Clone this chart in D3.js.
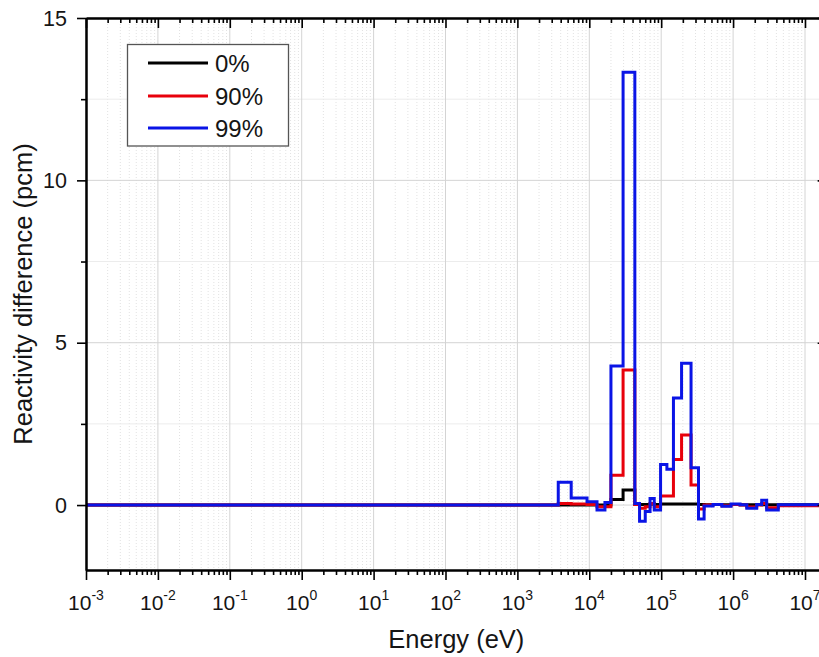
<!DOCTYPE html>
<html>
<head>
<meta charset="utf-8">
<script src="https://cdn.jsdelivr.net/npm/d3@7"></script>
<style>
  html, body { margin: 0; padding: 0; background: #fff; }
  svg { display: block; font-family: "Liberation Sans", Arial, sans-serif; }
</style>
</head>
<body>
<svg id="chart" width="819" height="657"></svg>
<script>
// ---- data (energy group boundaries in eV, values in pcm) ----
const groupBounds = [1e-3, 3.7e3, 5.6e3, 9.3e3, 1.28e4, 1.65e4, 2.0e4, 2.95e4, 4.3e4, 5.0e4,
  6.0e4, 7.0e4, 8.0e4, 9.8e4, 1.2e5, 1.48e5, 1.92e5, 2.6e5, 3.3e5, 3.95e5,
  5.25e5, 7.0e5, 9.35e5, 1.25e6, 1.55e6, 2.13e6, 2.5e6, 2.93e6, 4.25e6, 2e7];
const seriesNames = ["0%", "90%", "99%"];
const seriesColors = ["#000000", "#e8000b", "#0a14e6"];
const values0 = [0, 0, 0, 0, 0, 0, 0.17, 0.46, 0.02, 0.02,
  0.02, 0.03, 0.02, 0.03, 0.03, 0.03, 0.03, 0.03, 0.02, 0.01,
  0.02, 0.01, 0.02, 0.01, 0.01, 0.02, 0.01, 0.01, 0.01];
const values90 = [0, 0.05, 0.03, 0.02, -0.05, -0.05, 0.92, 4.16, 0.02, -0.1,
  -0.05, 0.05, -0.05, 0.28, 0.28, 1.4, 2.16, 0.62, -0.12, 0.0,
  0.02, -0.02, 0.02, 0.0, -0.06, 0.0, 0.05, -0.08, -0.02];
const values99 = [0, 0.70, 0.22, 0.10, -0.15, 0.08, 4.28, 13.33, 0.05, -0.5,
  -0.2, 0.2, -0.15, 1.25, 1.1, 3.3, 4.37, 1.15, -0.43, -0.03,
  0.02, -0.04, 0.03, 0.01, -0.1, 0.02, 0.15, -0.15, 0.01];
const xDomain = [1e-3, 2e7];
const yDomain = [-2, 15];
const xTickExps = [-3, -2, -1, 0, 1, 2, 3, 4, 5, 6, 7];
const yTickValues = [0, 5, 10, 15];
const yMinorValues = [2.5, 7.5, 12.5];
const xLabel = "Energy (eV)";
const yLabel = "Reactivity difference (pcm)";

// ---- layout ----
const PL = 86, PT = 18, PB = 570;
const decadePx = 71.9;
const PR = PL + decadePx * Math.log10(xDomain[1] / xDomain[0]);

const svg = d3.select("#chart");
const x = d3.scaleLog().domain(xDomain).range([PL, PR]);
const y = d3.scaleLinear().domain(yDomain).range([PB, PT]);

svg.append("defs").append("clipPath").attr("id", "clip")
  .append("rect").attr("x", PL).attr("y", PT).attr("width", PR - PL).attr("height", PB - PT);

const xMinor = [];
for (let e = -3; e <= 7; e++) for (let k = 2; k <= 9; k++) {
  const v = k * Math.pow(10, e);
  if (v <= xDomain[1]) xMinor.push(v);
}
const xMajor = xTickExps.map(e => Math.pow(10, e));

// grid
const grid = svg.append("g");
grid.selectAll(".vminor").data(xMinor).enter().append("line")
  .attr("x1", d => x(d)).attr("x2", d => x(d)).attr("y1", PT).attr("y2", PB)
  .attr("stroke", "#e2e2e2").attr("stroke-width", 1).attr("stroke-dasharray", "1,2");
grid.selectAll(".hminor").data(yMinorValues).enter().append("line")
  .attr("x1", PL).attr("x2", PR).attr("y1", d => y(d)).attr("y2", d => y(d))
  .attr("stroke", "#ececec").attr("stroke-width", 1);
grid.selectAll(".vmajor").data(xMajor).enter().append("line")
  .attr("x1", d => x(d)).attr("x2", d => x(d)).attr("y1", PT).attr("y2", PB)
  .attr("stroke", "#d4d4d4").attr("stroke-width", 1);
grid.selectAll(".hmajor").data(yTickValues).enter().append("line")
  .attr("x1", PL).attr("x2", PR).attr("y1", d => y(d)).attr("y2", d => y(d))
  .attr("stroke", "#d4d4d4").attr("stroke-width", 1);

// series
const allValues = [values0, values90, values99];
const stepLine = d3.line().x(d => x(d[0])).y(d => y(d[1])).curve(d3.curveStepAfter);
const plotG = svg.append("g").attr("clip-path", "url(#clip)");
allValues.forEach((vals, i) => {
  const pts = vals.map((v, j) => [groupBounds[j], v]);
  pts.push([groupBounds[groupBounds.length - 1], vals[vals.length - 1]]);
  plotG.append("path").datum(pts).attr("d", stepLine)
    .attr("fill", "none").attr("stroke", seriesColors[i])
    .attr("stroke-width", 3).attr("stroke-linejoin", "miter");
});

// axes
const noFmt = () => "";
function styleAxis(g) {
  g.selectAll("path").attr("stroke", "#000").attr("stroke-width", 2);
  g.selectAll("line").attr("stroke", "#000").attr("stroke-width", 1.6);
}
const axBottomMinor = d3.axisBottom(x).tickValues(xMinor).tickFormat(noFmt).tickSizeOuter(0).tickSizeInner(5);
const axBottom = d3.axisBottom(x).tickValues(xMajor).tickFormat(noFmt).tickSizeOuter(0).tickSizeInner(10);
const axLeftMinor = d3.axisLeft(y).tickValues(yMinorValues).tickFormat(noFmt).tickSizeOuter(0).tickSizeInner(5);
const axLeft = d3.axisLeft(y).tickValues(yTickValues).tickFormat(noFmt).tickSizeOuter(0).tickSizeInner(9);

svg.append("g").attr("transform", `translate(0,${PB})`).call(axBottomMinor).call(styleAxis);
svg.append("g").attr("transform", `translate(0,${PB})`).call(axBottom).call(styleAxis);
// top axis, ticks pointing into the plot
svg.append("g").attr("transform", `translate(0,${PT})`).call(axBottomMinor).call(styleAxis);
svg.append("g").attr("transform", `translate(0,${PT})`).call(axBottom).call(styleAxis);
svg.append("g").attr("transform", `translate(${PL},0)`).call(axLeftMinor).call(styleAxis);
svg.append("g").attr("transform", `translate(${PL},0)`).call(axLeft).call(styleAxis);
// right axis, ticks pointing into the plot
svg.append("g").attr("transform", `translate(${PR},0)`).call(axLeftMinor).call(styleAxis);
svg.append("g").attr("transform", `translate(${PR},0)`).call(axLeft).call(styleAxis);

// x tick labels
const xl = svg.append("g");
xTickExps.forEach(e => {
  const t = xl.append("text").attr("x", x(Math.pow(10, e))).attr("y", 610)
    .attr("text-anchor", "middle").attr("font-size", 21).attr("fill", "#151515");
  t.append("tspan").text("10");
  t.append("tspan").attr("dy", -10).attr("font-size", 14).text(String(e));
});

// y tick labels
svg.append("g").selectAll("text").data(yTickValues).enter().append("text")
  .attr("x", 67).attr("y", d => y(d)).attr("dy", "0.35em")
  .attr("text-anchor", "end").attr("font-size", 21.5).attr("fill", "#151515")
  .text(d => d);

// axis titles
svg.append("text").attr("x", (PL + PR) / 2).attr("y", 648).attr("text-anchor", "middle")
  .attr("font-size", 25.5).attr("fill", "#151515").text(xLabel);
svg.append("text").attr("transform", `translate(32,${(PT + PB) / 2}) rotate(-90)`)
  .attr("text-anchor", "middle").attr("font-size", 25.5).attr("fill", "#151515").text(yLabel);

// legend
const lg = svg.append("g");
lg.append("rect").attr("x", 127.5).attr("y", 44.5).attr("width", 161).attr("height", 101.5)
  .attr("fill", "#fff").attr("stroke", "#555").attr("stroke-width", 1.3);
const rowsY = [63, 96, 128];
seriesNames.forEach((n, i) => {
  lg.append("line").attr("x1", 148).attr("x2", 208).attr("y1", rowsY[i]).attr("y2", rowsY[i])
    .attr("stroke", seriesColors[i]).attr("stroke-width", 3);
  lg.append("text").attr("x", 215).attr("y", rowsY[i]).attr("dy", "0.36em")
    .attr("font-size", 24).attr("fill", "#151515").text(n);
});
</script>
</body>
</html>
